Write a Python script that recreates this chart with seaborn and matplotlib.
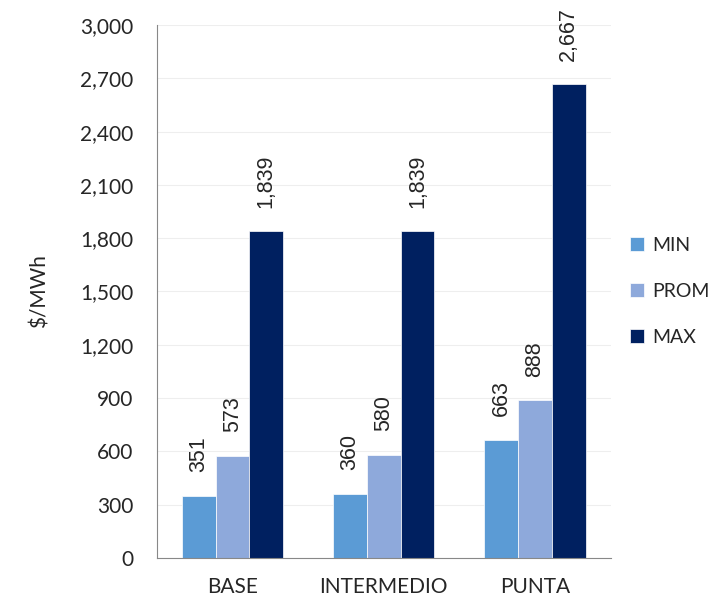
import pandas as pd
import matplotlib.pyplot as plt
import seaborn as sns

# data
categories = ['BASE', 'INTERMEDIO', 'PUNTA']
series = ['MIN', 'PROM', 'MAX']
min_vals = [351, 360, 663]
prom_vals = [573, 580, 888]
max_vals = [1839, 1839, 2667]
colors = ['#5B9BD5', '#8EA9DB', '#002060']

df = pd.DataFrame({
    'categoria': categories * 3,
    'serie': ['MIN'] * 3 + ['PROM'] * 3 + ['MAX'] * 3,
    'valor': min_vals + prom_vals + max_vals,
})

sns.set_style('white')
plt.rcParams['font.family'] = ['Lato', 'DejaVu Sans']

fig = plt.figure(figsize=(7.2, 5.96), dpi=100)
ax = fig.add_axes([0.218, 0.064, 0.63, 0.894])

sns.barplot(data=df, x='categoria', y='valor', hue='serie', hue_order=series,
            palette=colors, width=0.67, saturation=1, ax=ax,
            edgecolor='white', linewidth=0.5)

# value labels, rotated like the original
for cont in ax.containers:
    txts = ax.bar_label(cont, labels=[f'{v:,.0f}' for v in cont.datavalues],
                        rotation=90, padding=17, fontsize=15.5)
    for t in txts:
        t.set_fontfamily(['Liberation Sans', 'DejaVu Sans'])

ax.set_ylim(0, 3000)
ax.set_yticks(range(0, 3001, 300))
ax.set_yticklabels([f'{t:,}' for t in range(0, 3001, 300)], fontsize=15)
ax.set_xlim(-0.5, 2.5)
ax.set_xticks([-0.5, 0.5, 1.5, 2.5], minor=True)
ax.tick_params(axis='x', which='major', length=0, labelsize=15, pad=14)
ax.tick_params(axis='x', which='minor', length=6, color='#888888', direction='out')
ax.tick_params(axis='y', length=5, color='#888888', direction='out', pad=12)
ax.yaxis.grid(True, color='#EEEEEE', linewidth=0.8)
ax.set_axisbelow(True)

for s in ['top', 'right']:
    ax.spines[s].set_visible(False)
for s in ['left', 'bottom']:
    ax.spines[s].set_color('#888888')
    ax.spines[s].set_linewidth(0.8)

ax.set_xlabel('')
ax.set_ylabel('$/MWh', fontsize=15, labelpad=22)

leg = ax.legend(loc='center left', bbox_to_anchor=(1.0, 0.5), frameon=False,
                fontsize=14, handlelength=0.7, handleheight=0.7,
                labelspacing=1.5, handletextpad=0.45, borderaxespad=0.6)

fig.savefig('out.png', dpi=100)
